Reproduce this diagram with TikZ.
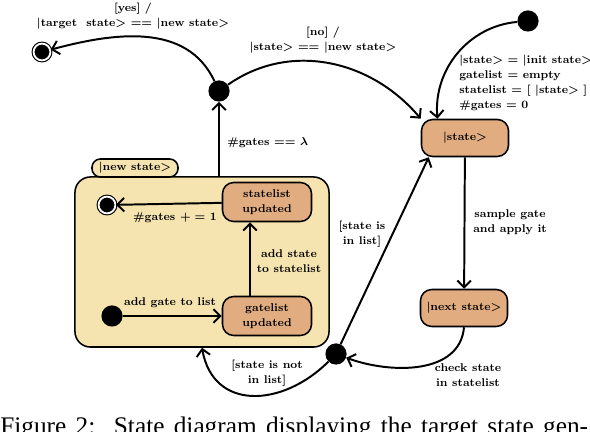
\documentclass[tikz,border=0pt]{standalone}
\usepackage{fontspec}
\newfontfamily\captionfont{Liberation Serif}
\usepackage{tikz}
\usetikzlibrary{arrows.meta}
\newcommand{\qstate}[1]{$|$#1$>$}
\definecolor{boxtan}{HTML}{E1AD80}
\definecolor{superyellow}{HTML}{F6E4B0}
\tikzset{
  lbl/.style={font=\fontsize{8}{10.7}\selectfont\bfseries\boldmath,align=center,inner sep=0pt},
  statebox/.style={rectangle,rounded corners=8pt,draw=black,line width=1.1pt,fill=boxtan,
    minimum width=2.175cm,minimum height=0.925cm,inner sep=1pt,
    font=\fontsize{8}{10.7}\selectfont\bfseries\boldmath,align=center},
  superbox/.style={rectangle,rounded corners=11pt,draw=black,line width=1.1pt,fill=superyellow,
    minimum width=6.35cm,minimum height=4.25cm},
  tabbox/.style={rectangle,rounded corners=6pt,draw=black,line width=1.1pt,fill=superyellow,
    minimum width=2.15cm,minimum height=0.45cm,inner sep=1pt,
    font=\fontsize{8}{10.7}\selectfont\bfseries\boldmath},
  dotnode/.style={circle,fill=black,minimum size=0.53cm,inner sep=0pt},
  finalnode/.style={circle,fill=black,draw=black,double=white,double distance=1.3pt,
    line width=0.8pt,minimum size=0.42cm,inner sep=0pt},
  transition/.style={line width=1.4pt,-{Straight Barb[length=1.7mm,width=3.4mm,line width=1.4pt]}}
}

\begin{document}
\begin{tikzpicture}[x=0.025cm,y=0.025cm]
  \useasboundingbox (0,0) rectangle (590,432);

  % outer states
  \node[finalnode] (targetend) at (42,380) {};
  \node[dotnode] (matchchoice) at (219,341) {};
  \node[dotnode] (init) at (528,411) {};
  \node[statebox] (state) at (465,294) {\qstate{state}};
  \node[statebox] (next) at (464,124) {\qstate{next state}};
  \node[dotnode] (listchoice) at (336,78) {};

  % composite state
  \node[superbox] (newstate) at (202,170) {};
  \node[tabbox] (newtab) at (135,264) {\qstate{new state}};
  \node[finalnode] (innerend) at (107,227) {};
  \node[statebox,minimum width=2.225cm,minimum height=0.975cm] (statelist) at (267,230) {statelist\\updated};
  \node[statebox,minimum width=2.225cm,minimum height=0.975cm] (gatelist) at (267,116) {gatelist\\updated};
  \node[dotnode] (innerstart) at (112,116) {};

  \draw[transition] (innerstart) -- (gatelist);
  \draw[transition] ([xshift=-0.425cm]gatelist.north) -- ([xshift=-0.425cm]statelist.south);
  \draw[transition] (statelist) -- (innerend);
  \node[lbl] at (170,129) {add gate to list};
  \node[lbl] at (289,171) {add state\\to statelist};
  \node[lbl] at (175,214) {\#gates $+=$ 1};

  % transitions
  \draw[transition] (newstate.north -| matchchoice) -- (matchchoice);
  \draw[transition] (matchchoice) to[out=115,in=15] (targetend);
  \draw[transition] (matchchoice) to[out=35,in=130] (state.north west);
  \draw[transition] (init) to[out=185,in=95] (state.145);
  \draw[transition] (state) -- (next);
  \draw[transition] (next.south) to[out=-95,in=-20] (listchoice);
  \draw[transition] (listchoice) -- (state.208);
  \draw[transition] (listchoice) to[out=-135,in=-80,looseness=1.3] (newstate.south);

  \node[lbl] at (133,416) {[yes] /\\\qstate{target\ \ state} $==$ \qstate{new state}};
  \node[lbl] at (323,392) {[no] /\\\qstate{state} $==$ \qstate{new state}};
  \node[lbl,anchor=west,align=left] at (459,349) {\qstate{state} $=$ \qstate{init state}\\
    gatelist $=$ empty\\statelist $=$ [ \qstate{state} ]\\\#gates $=$ 0};
  \node[lbl,anchor=west] at (227,289) {\#gates $==$ $\lambda$};
  \node[lbl] at (510,210) {sample gate\\and apply it};
  \node[lbl] at (362,198) {[state is\\in list]};
  \node[lbl] at (468,57) {check state\\in statelist};
  \node[lbl] at (267,59) {[state is not\\in list]};

  % caption, cut by the page edge as in the source
  \node[anchor=base west,inner sep=0pt,font=\captionfont\fontsize{18}{20}\selectfont] (caption) at (0,-3)
    {\makebox[418pt][s]{Figure 2:\ \ State diagram displaying the target state gen-}};
\end{tikzpicture}
\end{document}
